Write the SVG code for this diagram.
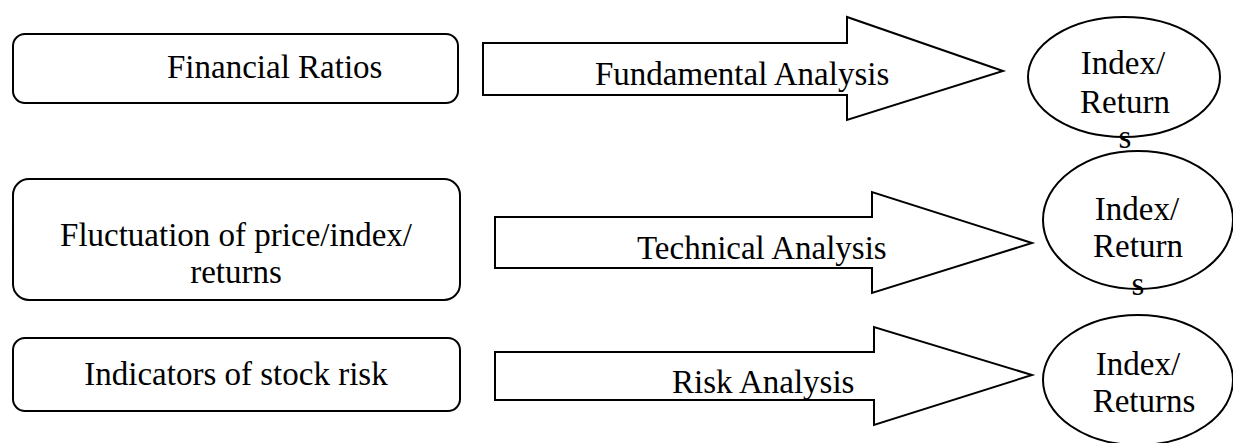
<svg xmlns="http://www.w3.org/2000/svg" width="1233" height="443" viewBox="0 0 1233 443" font-family="Liberation Serif, serif" font-size="33">
<style>
.box{fill:#fff;stroke:#000;stroke-width:2}
.arr{fill:#fff;stroke:#000;stroke-width:2;stroke-linejoin:miter}
.ell{fill:#fff;stroke:#000;stroke-width:2}
.c{text-anchor:middle}
</style>
<rect width="1233" height="443" fill="#fff"/>
<g id="node-financial-ratios">
<rect class="box" x="13" y="34" width="445" height="69" rx="12"/>
<text x="167" y="78">Financial Ratios</text>
</g>
<g id="node-fluctuation">
<rect class="box" x="13" y="179" width="447" height="121" rx="16"/>
<text class="c" x="236" y="246">Fluctuation of price/index/</text>
<text class="c" x="236" y="283">returns</text>
</g>
<g id="node-indicators">
<rect class="box" x="13" y="338" width="447" height="73" rx="12"/>
<text class="c" x="236" y="385">Indicators of stock risk</text>
</g>
<g id="connectors">
<g id="arrow-fundamental">
<path class="arr" d="M483,43 H847 V17 L1003,71 L847,120 V95 H483 Z"/>
<text x="595" y="85">Fundamental Analysis</text>
</g>
<g id="arrow-technical">
<path class="arr" d="M495,217 H872 V192 L1032,243 L872,293 V268 H495 Z"/>
<text x="637" y="259">Technical Analysis</text>
</g>
<g id="arrow-risk">
<path class="arr" d="M495,352 H874 V327 L1032,375 L874,425 V400 H495 Z"/>
<text x="672" y="393">Risk Analysis</text>
</g>
</g>
<g id="node-index-returns-1">
<ellipse class="ell" cx="1124" cy="77" rx="96" ry="60"/>
<text class="c" x="1123" y="74">Index/</text>
<text class="c" x="1125" y="113">Return</text>
<text class="c" x="1125" y="148">s</text>
</g>
<g id="node-index-returns-2">
<ellipse class="ell" cx="1138" cy="220" rx="95" ry="69"/>
<text class="c" x="1137" y="220">Index/</text>
<text class="c" x="1138" y="257">Return</text>
<text class="c" x="1138" y="295">s</text>
</g>
<g id="node-index-returns-3">
<ellipse class="ell" cx="1138" cy="380" rx="95" ry="65"/>
<text class="c" x="1138" y="375">Index/</text>
<text class="c" x="1144" y="412">Returns</text>
</g>
</svg>
